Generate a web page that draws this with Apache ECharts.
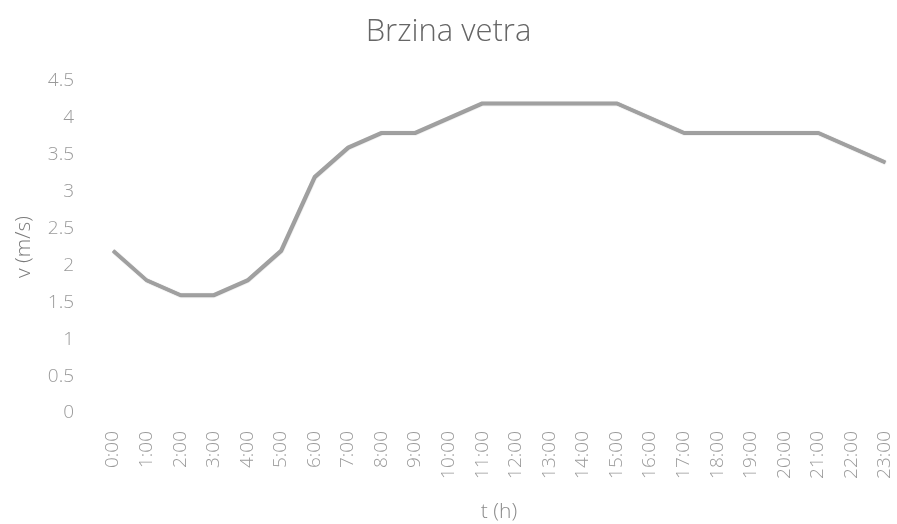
<!DOCTYPE html>
<html><head><meta charset="utf-8">
<script src="https://cdn.jsdelivr.net/npm/echarts@6/dist/echarts.min.js"></script>
<style>html,body{margin:0;padding:0;background:#fff}#c{width:897px;height:524px}</style>
</head><body><div id="c"></div>
<script>
const categories = ['0:00','1:00','2:00','3:00','4:00','5:00','6:00','7:00','8:00','9:00','10:00','11:00','12:00','13:00','14:00','15:00','16:00','17:00','18:00','19:00','20:00','21:00','22:00','23:00'];
const speed = [2.2,1.8,1.6,1.6,1.8,2.2,3.2,3.6,3.8,3.8,4.0,4.2,4.2,4.2,4.2,4.2,4.0,3.8,3.8,3.8,3.8,3.8,3.6,3.4];
const chart = echarts.init(document.getElementById('c'));
const fam = 'Open Sans, Lato, sans-serif';
chart.setOption({
  animation:false,
  title:{text:'Brzina vetra',left:'center',top:12,textStyle:{fontFamily:fam,fontWeight:300,fontSize:31,color:'#666666'}},
  grid:{left:113,right:12,top:81,bottom:111,containLabel:false,outerBoundsMode:'none'},
  xAxis:{type:'category',data:categories,boundaryGap:false,
    axisLine:{show:false},axisTick:{show:false},
    axisLabel:{rotate:90,margin:18,fontFamily:fam,fontWeight:300,fontSize:19,color:'#9a9a9a'},
    name:'t (h)',nameLocation:'middle',nameGap:89,nameTextStyle:{fontFamily:fam,fontWeight:300,fontSize:21,color:'#8a8a8a'}},
  yAxis:{type:'value',min:0,max:4.5,interval:0.5,
    axisLine:{show:false},axisTick:{show:false},splitLine:{show:false},
    axisLabel:{margin:39,fontFamily:fam,fontWeight:300,fontSize:19,color:'#9a9a9a'},
    name:'v (m/s)',nameLocation:'middle',nameGap:78,nameRotate:90,nameTextStyle:{fontFamily:fam,fontWeight:300,fontSize:21,color:'#7a7a7a'}},
  series:[{type:'line',data:speed,symbol:'none',
    lineStyle:{color:'#a0a0a0',width:3.5,shadowColor:'rgba(0,0,0,0.45)',shadowBlur:1,shadowOffsetX:0.5,shadowOffsetY:0.5}}]
});
</script></body></html>
